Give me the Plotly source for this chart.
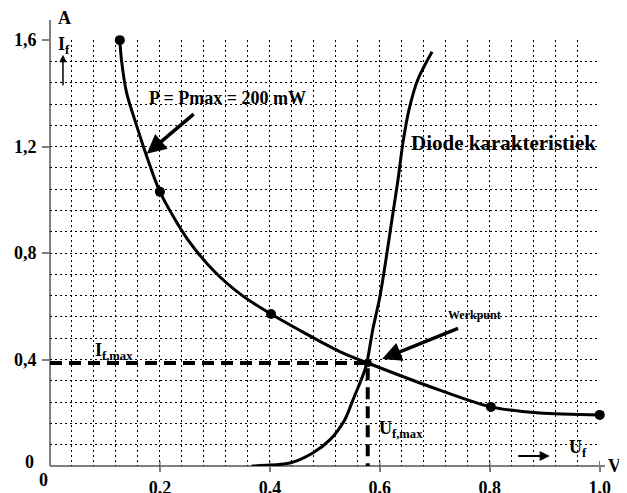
import plotly.graph_objects as go

# ---- data ----
U_power = [0.127, 0.130, 0.1395, 0.158, 0.176, 0.200, 0.250, 0.300, 0.350, 0.402, 0.527, 0.578, 0.709, 0.802, 0.891, 1.000]
I_power = [1.600, 1.526, 1.401, 1.276, 1.163, 1.030, 0.852, 0.729, 0.640, 0.571, 0.430, 0.387, 0.285, 0.222, 0.199, 0.192]
U_dots = [0.127, 0.200, 0.402, 0.802, 1.000]
I_dots = [1.600, 1.030, 0.571, 0.222, 0.192]
U_diode = [0.367, 0.436, 0.478, 0.509, 0.536, 0.551, 0.5745, 0.587, 0.600, 0.611, 0.622, 0.633, 0.642, 0.653, 0.669, 0.695]
I_diode = [0.000, 0.011, 0.049, 0.098, 0.173, 0.248, 0.372, 0.511, 0.635, 0.774, 0.925, 1.075, 1.214, 1.338, 1.451, 1.556]
U_work = 0.578
I_work = 0.387
x_tickvals = [0.2, 0.4, 0.6, 0.8, 1.0]
x_ticktext = ["0,2", "0,4", "0,6", "0,8", "1,0"]
y_tickvals = [0.4, 0.8, 1.2, 1.6]
y_ticktext = ["0,4", "0,8", "1,2", "1,6"]

FONT = "Liberation Serif"
BOLD = dict(family=FONT, size=18, color="black", weight="bold")
GRAY = "#808080"

fig = go.Figure()
fig.add_trace(go.Scatter(x=[0, U_work, U_work], y=[I_work, I_work, 0], mode="lines",
                         line=dict(color="black", width=4, dash="12px,7px"), hoverinfo="skip"))
fig.add_trace(go.Scatter(x=U_power, y=I_power, mode="lines",
                         line=dict(color="black", width=3, shape="spline", smoothing=0.8),
                         hoverinfo="skip"))
fig.add_trace(go.Scatter(x=U_diode, y=I_diode, mode="lines",
                         line=dict(color="black", width=3, shape="spline", smoothing=0.8),
                         hoverinfo="skip"))
fig.add_trace(go.Scatter(x=U_dots, y=I_dots, mode="markers", marker=dict(color="black", size=10),
                         cliponaxis=False, hoverinfo="skip"))
fig.add_trace(go.Scatter(x=[U_work], y=[I_work], mode="markers", marker=dict(color="black", size=8),
                         cliponaxis=False, hoverinfo="skip"))

grid = dict(showgrid=True, gridcolor="black", gridwidth=1, griddash="2px,3px")
fig.update_xaxes(range=[0, 1.0005], tickvals=x_tickvals, ticktext=x_ticktext, tickfont=BOLD,
                 ticks="outside", ticklen=5, tickwidth=1.5, tickcolor=GRAY, ticklabelstandoff=0,
                 showline=False, zeroline=False, automargin=False,
                 minor=dict(dtick=0.04, tick0=0, ticks="", **grid), **grid)
fig.update_yaxes(range=[0, 1.6005], tickvals=y_tickvals, ticktext=y_ticktext, tickfont=BOLD,
                 ticks="outside", ticklen=7, tickwidth=1.5, tickcolor=GRAY, ticklabelstandoff=2,
                 showline=False, zeroline=False, automargin=False,
                 minor=dict(dtick=0.08, tick0=0, ticks="", **grid), **grid)

shapes = [
    dict(type="line", xref="paper", yref="paper", x0=0, x1=0, y0=0, y1=1.047,
         line=dict(color=GRAY, width=2), layer="between"),
    dict(type="line", xref="paper", yref="paper", x0=0, x1=1.009, y0=0, y1=0,
         line=dict(color=GRAY, width=2), layer="between"),
]
for v in x_tickvals:
    shapes.append(dict(type="line", xref="x", yref="paper", x0=v, x1=v, y0=0, y1=0.012,
                       line=dict(color=GRAY, width=1.5), layer="between"))

ann = []
def txt(x, y, t, size=18, xanchor="left", xref="x", yref="y"):
    ann.append(dict(x=x, y=y, xref=xref, yref=yref, text=t, showarrow=False, xanchor=xanchor,
                    yanchor="middle", font=dict(family=FONT, size=size, color="black", weight="bold")))

def arrow(x0, y0, x1, y1, width=3, head=2, size=1.0):
    ann.append(dict(x=x1, y=y1, ax=x0, ay=y0, xref="x", yref="y", axref="x", ayref="y", text="",
                    showarrow=True, arrowhead=head, arrowwidth=width, arrowsize=size, arrowcolor="black"))

txt(0.027, 1.052, "A", xanchor="center", xref="paper", yref="paper")
txt(0.011, 0.988, "I<sub>f</sub>", xref="paper", yref="paper")
arrow(0.0236, 1.425, 0.0236, 1.545, width=1.5)
txt(0.176, 1.383, "P = Pmax = 200 mW")
arrow(0.264, 1.327, 0.176, 1.173, width=3.5, size=1.1)
txt(0.720, 0.568, "Werkpunt", size=12)
arrow(0.745, 0.519, 0.604, 0.402, width=3.5, size=1.1)
txt(0.653, 1.214, "Diode karakteristiek", size=21)
txt(0.078, 0.429, "I<sub>f,max</sub>")
txt(0.595, 0.139, "U<sub>f,max</sub>")
txt(0.940, 0.064, "U<sub>f</sub>")
arrow(0.849, 0.0376, 0.909, 0.0376, width=2)
txt(1.027, 0.0, "V", xanchor="center", xref="paper", yref="paper")
txt(-0.038, 0.0094, "0", xanchor="center", xref="paper", yref="paper")
txt(-0.0127, -0.033, "0", xanchor="center", xref="paper", yref="paper")

# page body adds an 8px offset, so the figure is sized to fit the 627x493 window
fig.update_layout(width=619, height=485, margin=dict(l=42, r=27, t=32, b=27),
                  paper_bgcolor="white", plot_bgcolor="white", showlegend=False,
                  font=dict(family=FONT, color="black"), shapes=shapes, annotations=ann)
fig.write_html("out.html")
